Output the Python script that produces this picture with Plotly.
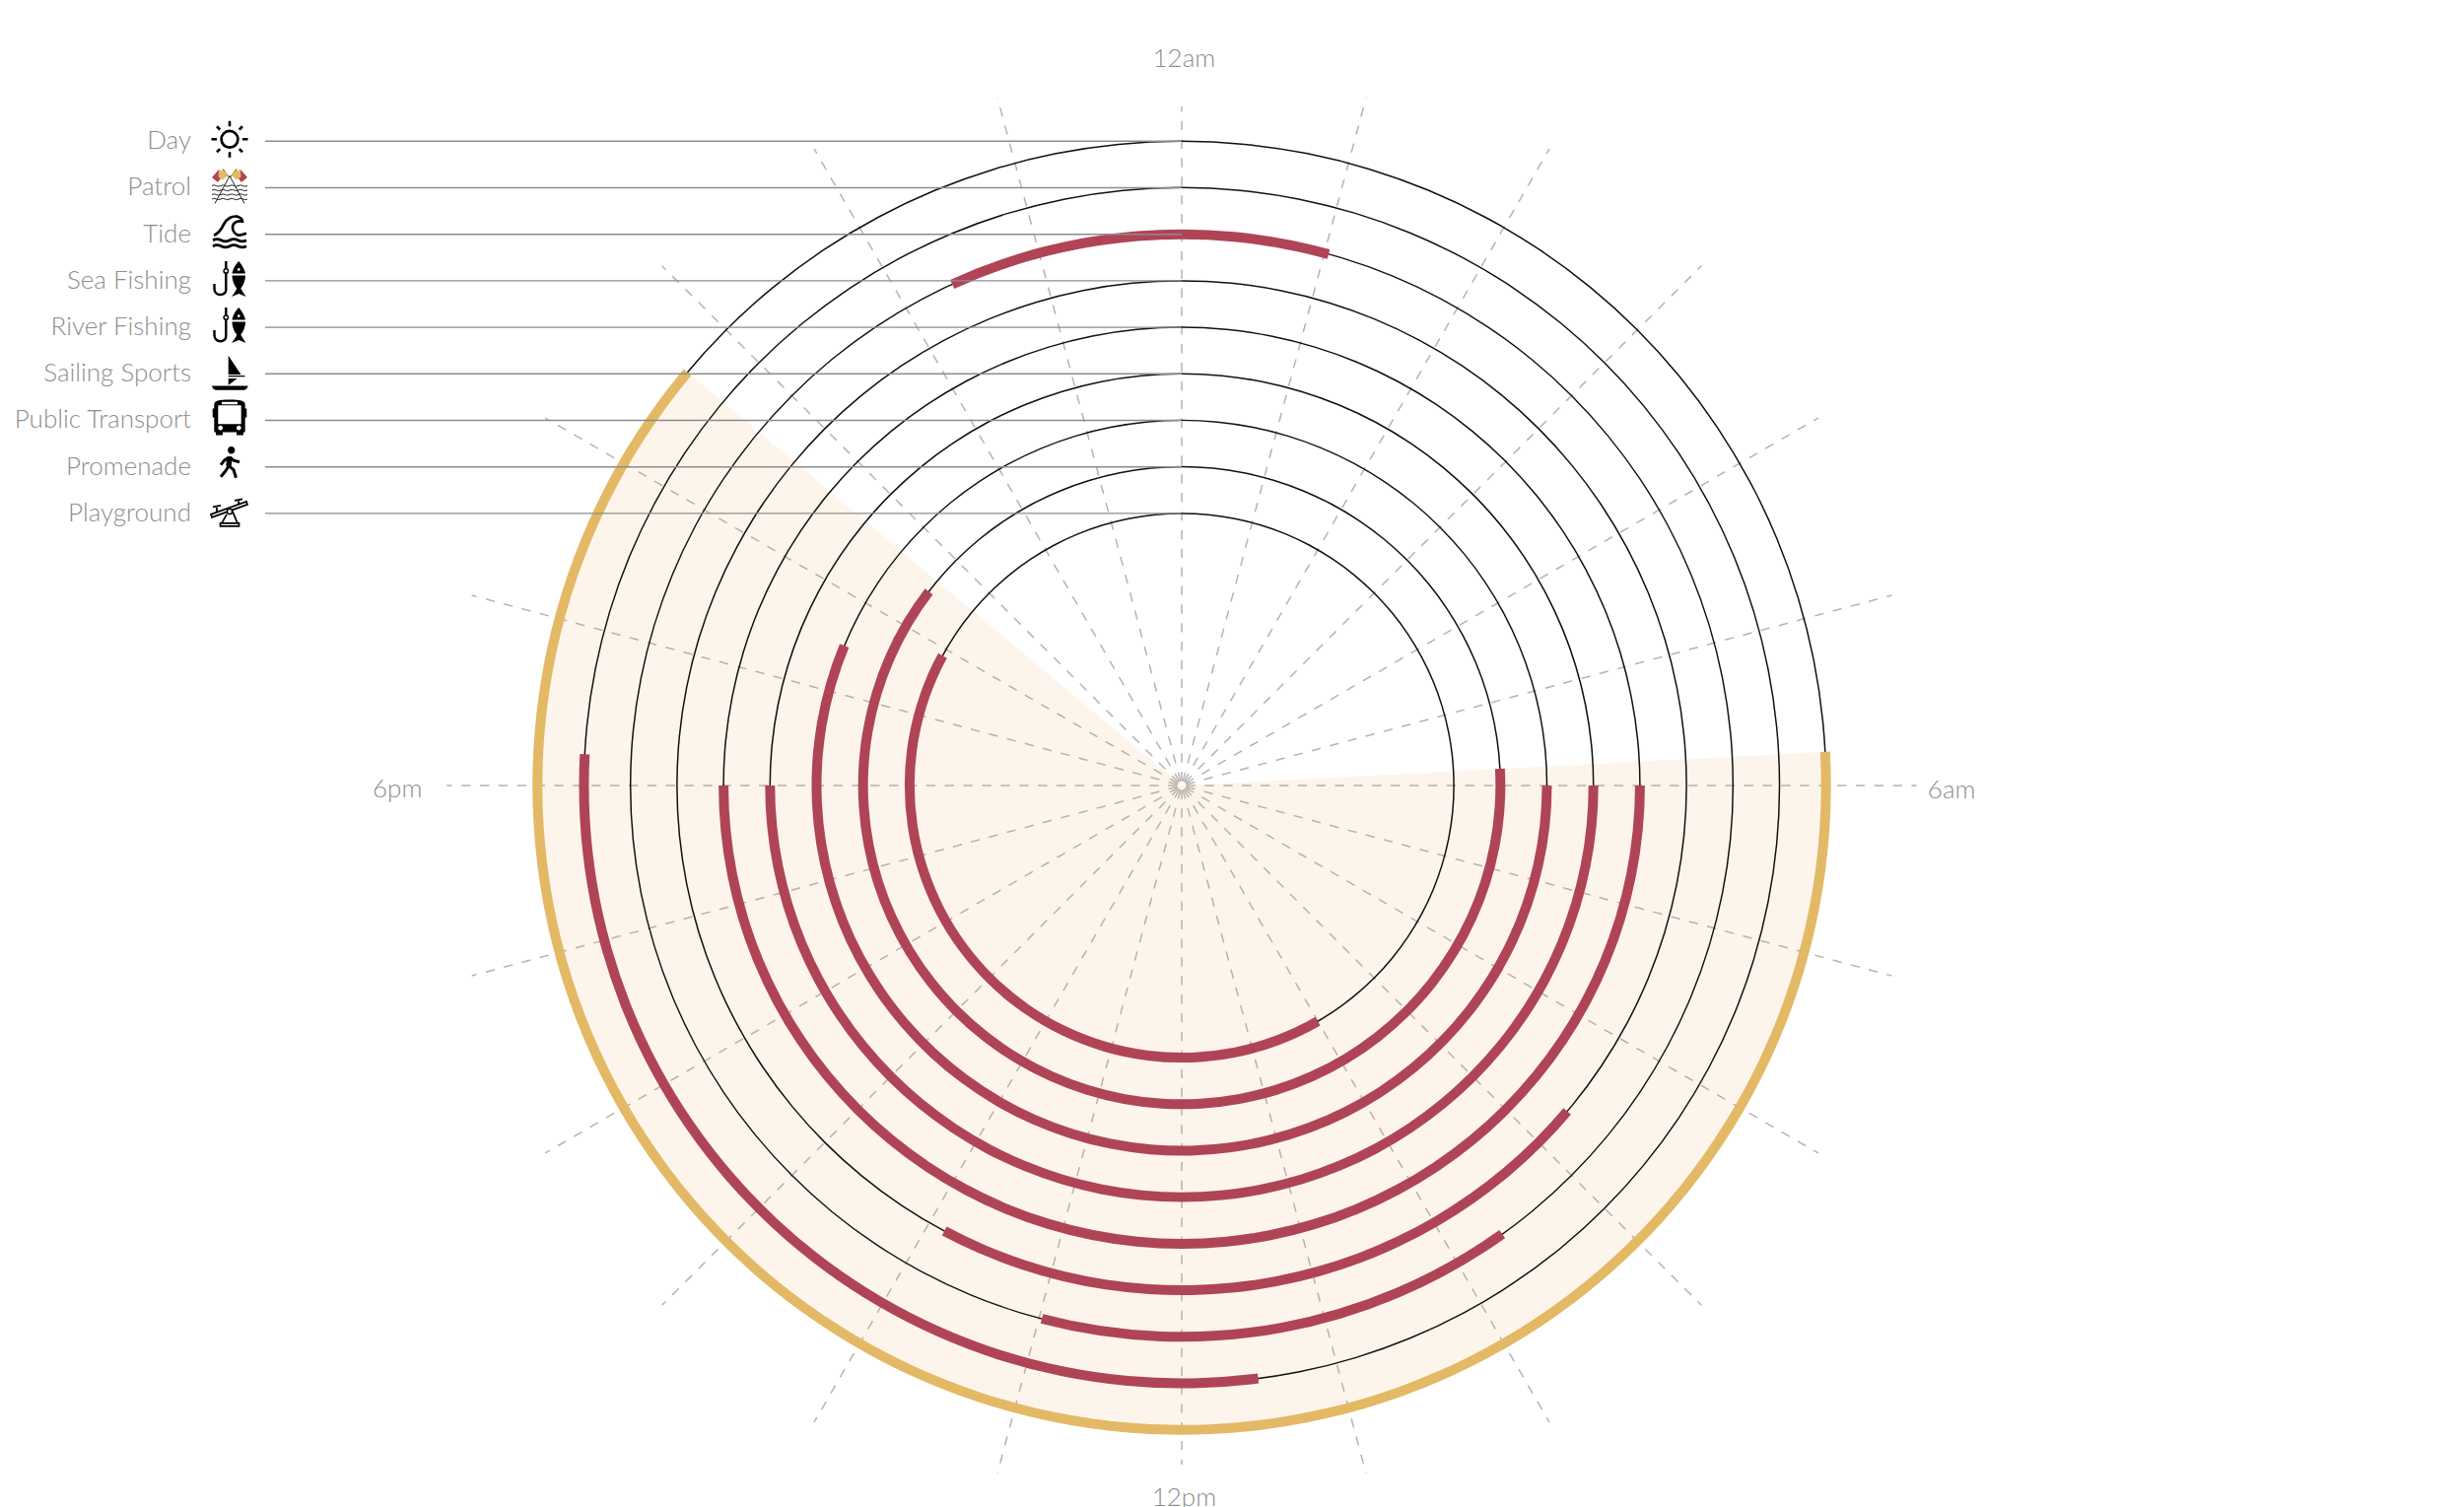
import re
import numpy as np
import plotly.graph_objects as go

# page geometry (px), rings are spaced one radial unit apart
WIDTH, HEIGHT = 2500, 1529
CX, CY = 1199, 797
UNIT = 47.2
INNER = 5.85

rows = ["Playground", "Promenade", "Public Transport", "Sailing Sports",
        "River Fishing", "Sea Fishing", "Tide", "Patrol", "Day"]

# hours on a 24h clock, 12am at the top
day_start, day_end = 5.80, 20.66
active_rows = ["Patrol", "Tide", "Tide", "Sea Fishing", "River Fishing",
               "Sailing Sports", "Public Transport", "Promenade", "Playground"]
active_start = [11.51, 22.36, 9.63, 8.68, 6.0, 6.0, 6.0, 5.80, 10.0]
active_end = [18.20, 25.03, 12.98, 13.87, 18.0, 18.0, 19.50, 20.50, 19.90]

hour_labels = ["12am", "6am", "12pm", "6pm"]
hour_label_x = [0.05, 16.55, 0.05, -16.86]
hour_label_y = [15.59, -0.135, -15.36, -0.12]

spoke_hours = list(range(24))
spoke_ends = [14.6, 15.3, 15.8, 15.8, 15.8, 15.8, 15.8, 15.8, 15.8, 15.8, 15.8, 15.3,
              14.6, 15.3, 15.8, 15.8, 15.8, 15.8, 15.8, 15.8, 15.8, 15.8, 15.8, 15.3]

RED = "#B04457"
GOLD = "#E3B966"
WASH = "rgba(240,170,90,0.115)"
INK = "#111111"
GREY = "#8e8e8e"


def radius(row):
    return INNER + rows.index(row)


def arc(starts, ends, rads, thick, color):
    return go.Barpolar(
        r=[thick] * len(rads),
        base=[r - thick / 2 for r in rads],
        theta=[(s + e) / 2 * 15 for s, e in zip(starts, ends)],
        width=[(e - s) * 15 for s, e in zip(starts, ends)],
        marker=dict(color=color, line=dict(width=0)),
        hoverinfo="skip", showlegend=False, subplot="polar",
    )


fig = go.Figure()

# spokes sit on the cartesian overlay because polar clips them at the page bottom
for h, end in zip(spoke_hours, spoke_ends):
    a = np.radians(h * 15)
    fig.add_trace(go.Scatter(
        x=[4.5 / UNIT * np.sin(a), end * np.sin(a)],
        y=[4.5 / UNIT * np.cos(a), end * np.cos(a)],
        mode="lines",
        line=dict(color="#b4b4b4", width=1.5, dash="9.4px,9.47px"),
        cliponaxis=False, hoverinfo="skip", showlegend=False,
    ))

# daylight wedge, thin rings, activity arcs, then the day arc
fig.add_trace(go.Barpolar(
    r=[radius("Day")], base=[0], theta=[(day_start + day_end) / 2 * 15],
    width=[(day_end - day_start) * 15],
    marker=dict(color=WASH, line=dict(width=0)),
    hoverinfo="skip", showlegend=False, subplot="polar",
))
fig.add_trace(arc([0] * 9, [24] * 9, [radius(n) for n in rows], 1.5 / UNIT, INK))
fig.add_trace(arc(active_start, active_end, [radius(n) for n in active_rows], 10 / UNIT, RED))
fig.add_trace(arc([day_start], [day_end], [radius("Day")], 10 / UNIT, GOLD))

label_right = (194 - CX) / UNIT
fig.add_trace(go.Scatter(
    x=[label_right] * 9, y=[radius(n) - 1.5 / UNIT for n in rows], text=rows,
    mode="text", textposition="middle left",
    textfont=dict(family="Lato", size=26, color=GREY, weight=300),
    cliponaxis=False, hoverinfo="skip", showlegend=False,
))
fig.add_trace(go.Scatter(
    x=hour_label_x, y=hour_label_y, text=hour_labels, mode="text",
    textposition="middle center",
    textfont=dict(family="Lato", size=26, color=GREY, weight=300),
    cliponaxis=False, hoverinfo="skip", showlegend=False,
))

shapes = []
leader_left = (269 - CX) / UNIT
for n in rows:
    shapes.append(dict(type="line", xref="x", yref="y", layer="above",
                       x0=leader_left, x1=0, y0=radius(n), y1=radius(n),
                       line=dict(color="#8c8c8c", width=1.4)))


# icon paths are px offsets from the icon centre, y pointing down
def flip(d):
    out, i = [], 0
    for t in re.findall(r"[A-Za-z]|-?\d*\.?\d+", d):
        if t.isalpha():
            out.append(t)
        else:
            out.append(t if i % 2 == 0 else str(-float(t)))
            i += 1
    return " ".join(out)


def circle(x, y, r):
    k = 0.552 * r
    return (f"M{x - r} {y} C{x - r} {y - k} {x - k} {y - r} {x} {y - r} "
            f"C{x + k} {y - r} {x + r} {y - k} {x + r} {y} "
            f"C{x + r} {y + k} {x + k} {y + r} {x} {y + r} "
            f"C{x - k} {y + r} {x - r} {y + k} {x - r} {y} Z ")


def wavy(y, x0, x1, n, amp):
    step = (x1 - x0) / n
    d = f"M{x0} {y} "
    for i in range(n):
        sign = -1 if i % 2 == 0 else 1
        d += f"Q{x0 + step * (i + 0.5)} {y + sign * amp} {x0 + step * (i + 1)} {y} "
    return d


def icon(row, d, fill="black", line=None, width=0, dy=-2):
    shapes.append(dict(
        type="path", layer="above", xref="x", yref="y",
        xsizemode="pixel", ysizemode="pixel",
        xanchor=(233 - CX) / UNIT, yanchor=radius(row) - dy / UNIT,
        path=flip(d), fillcolor=fill, fillrule="evenodd",
        line=dict(color=line or "rgba(0,0,0,0)", width=width),
    ))


NONE = "rgba(0,0,0,0)"

# sun
icon("Day", circle(0, 0, 8.4), fill=NONE, line="black", width=2.7)
icon("Day", "M0 -18.5 L0 -13 M0 13 L0 18.5 M-18.5 0 L-13 0 M13 0 L18.5 0 "
     "M-13 -13 L-9.8 -9.8 M13 -13 L9.8 -9.8 M-13 13 L-9.8 9.8 M13 13 L9.8 9.8",
     fill=NONE, line="black", width=2.6)

# crossed flags over water
icon("Patrol", "M-15 18 L-0 -10 L15 18 M-1 -9 L-7 -17 M1 -9 L7 -17",
     fill=NONE, line="#222", width=1)
icon("Patrol", "M-18 -9.5 L-11 -17.5 L-7 -11 L-12 -4.5 Z", fill=RED, dy=-1)
icon("Patrol", "M-11 -17.5 L-3 -15 L-2 -11.5 L-7 -7 L-11.5 -10 Z", fill=GOLD, dy=-1)
icon("Patrol", "M18 -9.5 L11 -17.5 L7 -11 L12 -4.5 Z", fill=RED, dy=-1)
icon("Patrol", "M11 -17.5 L3 -15 L2 -11.5 L7 -7 L11.5 -10 Z", fill=GOLD, dy=-1)
icon("Patrol", wavy(0, -18, 18, 8, 1.3) + wavy(4.5, -18, 18, 8, 1.3)
     + wavy(9, -18, 18, 8, 1.3) + wavy(13.5, -18, 18, 8, 1.3),
     fill=NONE, line="#222", width=1)

# wave
icon("Tide", "M-16 3 C-10 1 -8 -4 -6 -8 C-3 -14 3 -17 8 -16 C11 -15 13 -13 13 -11 "
     "C8 -12 3 -10 3 -5 C3 -1 6 2 9 3 C11 3 14 2 17 1",
     fill=NONE, line="black", width=2.7)
icon("Tide", wavy(8, -17, 17, 4, 2.2) + wavy(14, -17, 17, 4, 2.2),
     fill=NONE, line="black", width=2.7)

# hook and fish, same for both fishing rows
for row in ["Sea Fishing", "River Fishing"]:
    icon(row, "M-3.7 -18 L-3.7 11 C-3.7 18 -15.5 18 -15.5 10 L-15.5 5",
         fill=NONE, line="black", width=2.4)
    icon(row, circle(-3.7, -8, 2.2), fill="white", line="black", width=1.5)
    icon(row, "M9.3 -18 C12 -15 15.5 -9 16 -5.5 L2.5 -5.5 C3 -9 6 -15 9.3 -18 Z " + circle(9.3, -9.5, 1.4))
    icon(row, "M2.5 -3.5 L16 -3.5 C16 2 13.5 7 11.3 9.5 C13 13 15 15 16.5 18 "
         "L9.3 15 L2 18 C4 15 6 13 7.3 9.5 C5 7 2.5 2 2.5 -3.5 Z")

# sailboat
icon("Sailing Sports", "M-1.3 -17.5 L11.5 1.7 L-1.3 1.7 Z M-1.3 2.8 L15.5 2.8 L15.5 4 L-1.3 4 Z "
     "M-1.3 5.7 L7.7 5.7 L-1.3 12.5 Z M-18 13.3 L18.7 13.3 C18 16 16.5 17.5 14 17.5 L-13 17.5 C-16 17.5 -17.5 16 -18 13.3 Z",
     dy=-1)

# bus
icon("Public Transport",
     "M-15.7 -13 C-15.7 -17 -11 -18 0 -18 C11 -18 15.7 -17 15.7 -13 L15.7 -9 L17.3 -9 L17.3 0 L15.7 0 L15.7 15 "
     "L14 15 L14 18 L7 18 L7 15 L-7 15 L-7 18 L-14 18 L-14 15 L-15.7 15 L-15.7 0 L-17.3 0 L-17.3 -9 L-15.7 -9 Z "
     "M-11.7 -12.3 L11.7 -12.3 L11.7 6.7 L-11.7 6.7 Z M-8 -15.7 L8 -15.7 L8 -13.3 L-8 -13.3 Z "
     + circle(-9.3, 10.6, 2.4) + circle(9.3, 10.6, 2.4), dy=-3)

# walker
icon("Promenade", circle(1.7, -13, 3.7), dy=-4)
icon("Promenade", "M0 -6 L-1 3", fill=NONE, line="black", width=5.5, dy=-4)
icon("Promenade", "M-1 3 L-4 8 L-9 14 M-1 3 L4 7 L6.5 15 M0 -6 L-5 -3 L-9 2 M0 -6 L4 -2.5 L10 -1",
     fill=NONE, line="black", width=3, dy=-4)

# seesaw: base first, then the white board on top of it
icon("Playground", "M-3 2 L-8 11 L8 11 L3 -1 M-9.5 11 L9.5 11 L9.5 14 L-9.5 14 Z",
     fill="white", line="black", width=1.7, dy=-1)
icon("Playground", "M-13 -1 L-13 -5 M-17 -5.5 L-9 -7 M9.5 -7.5 L9 -11.5 M5 -12 L13 -13.5",
     fill=NONE, line="black", width=1.9, dy=-1)
icon("Playground", "M-18 5 L18 -8 L17 -11 L-19 2 Z", fill="white", line="black", width=1.7, dy=-1)
icon("Playground", circle(0, -1, 2.6), fill="white", line="black", width=1.5, dy=-1)

r_max = (HEIGHT - CY) / UNIT
fig.update_layout(
    width=WIDTH, height=HEIGHT, margin=dict(l=0, r=0, t=0, b=0),
    paper_bgcolor="white", plot_bgcolor="rgba(0,0,0,0)",
    xaxis=dict(visible=False, domain=[0, 1], range=[-CX / UNIT, (WIDTH - CX) / UNIT], fixedrange=True),
    yaxis=dict(visible=False, domain=[0, 1], range=[-(HEIGHT - CY) / UNIT, CY / UNIT], fixedrange=True),
    polar=dict(
        domain=dict(x=[(CX - r_max * UNIT) / WIDTH, (CX + r_max * UNIT) / WIDTH],
                    y=[0, 2 * r_max * UNIT / HEIGHT]),
        bgcolor="rgba(0,0,0,0)", barmode="overlay",
        radialaxis=dict(visible=False, range=[0, r_max]),
        angularaxis=dict(visible=False, direction="clockwise", rotation=90),
    ),
    shapes=shapes,
)

fig.write_html("out.html", config={"displayModeBar": False},
               post_script="document.body.style.margin='0';")
